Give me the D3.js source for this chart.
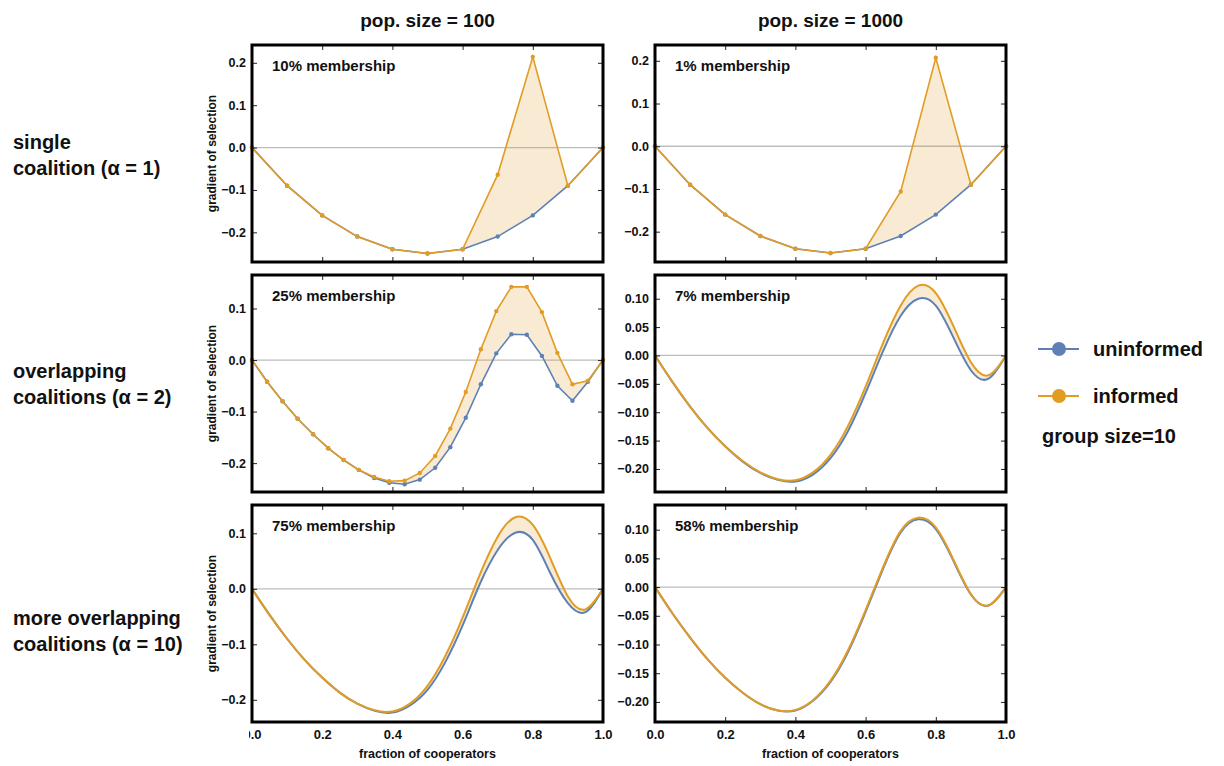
<!DOCTYPE html>
<html>
<head>
<meta charset="utf-8">
<script src="https://cdn.jsdelivr.net/npm/d3@7"></script>
<style>
	body { margin: 0; background: #fff; }
	svg text { font-family: "Liberation Sans", Arial, sans-serif; font-weight: bold; fill: #111; }
</style>
</head>
<body>
<div id="chart"></div>
<script>
// ---- data ----
var colTitles = ["pop. size = 100", "pop. size = 1000"];
var rowLabels = [["single", "coalition (\u03b1 = 1)"],
	["overlapping", "coalitions (\u03b1 = 2)"],
	["more overlapping", "coalitions (\u03b1 = 10)"]];
var memberships = ["10% membership", "1% membership", "25% membership", "7% membership", "75% membership", "58% membership"];
var seriesNames = ["uninformed", "informed"];
var groupNote = "group size=10";
var xTicks = [0, 0.2, 0.4, 0.6, 0.8, 1.0];

// single coalition, 11 states
var xTenths = [0, 0.1, 0.2, 0.3, 0.4, 0.5, 0.6, 0.7, 0.8, 0.9, 1.0];
var singleUninf100 = [0, -0.09, -0.16, -0.21, -0.24, -0.25, -0.24, -0.21, -0.16, -0.09, 0];
var singleInf100 = [0, -0.09, -0.16, -0.21, -0.24, -0.25, -0.24, -0.064, 0.214, -0.09, 0];
var singleUninf1000 = [0, -0.09, -0.16, -0.21, -0.24, -0.25, -0.24, -0.21, -0.16, -0.09, 0];
var singleInf1000 = [0, -0.09, -0.16, -0.21, -0.24, -0.25, -0.24, -0.106, 0.207, -0.09, 0];

// overlapping, pop 100, 24 states
var xTwentyThirds = [0, 0.043, 0.087, 0.130, 0.174, 0.217, 0.261, 0.304, 0.348, 0.391, 0.435, 0.478,
	0.522, 0.565, 0.609, 0.652, 0.696, 0.739, 0.783, 0.826, 0.870, 0.913, 0.957, 1.0];
var overlapUninf100 = [0, -0.042, -0.080, -0.114, -0.144, -0.171, -0.194, -0.213, -0.229, -0.238, -0.241, -0.232,
	-0.209, -0.169, -0.112, -0.047, 0.013, 0.050, 0.049, 0.008, -0.050, -0.079, -0.042, 0];
var overlapInf100 = [0, -0.042, -0.080, -0.114, -0.144, -0.171, -0.194, -0.213, -0.227, -0.235, -0.234, -0.219,
	-0.186, -0.133, -0.062, 0.021, 0.095, 0.142, 0.142, 0.093, 0.014, -0.047, -0.040, 0];

// smooth curves, sampled every 0.05
var xTwentieths = [0, 0.05, 0.1, 0.15, 0.2, 0.25, 0.3, 0.35, 0.4, 0.45, 0.5, 0.55, 0.6, 0.65, 0.7, 0.75, 0.8, 0.85, 0.9, 0.95, 1.0];
var overlapUninf1000 = [0, -0.047, -0.090, -0.128, -0.160, -0.187, -0.207, -0.219, -0.222, -0.210, -0.181, -0.133, -0.066, 0.008, 0.070, 0.100, 0.088, 0.032, -0.026, -0.041, 0];
var overlapInf1000 = [0, -0.047, -0.090, -0.128, -0.160, -0.186, -0.206, -0.218, -0.220, -0.206, -0.175, -0.124, -0.055, 0.022, 0.088, 0.123, 0.110, 0.052, -0.012, -0.035, 0];
var moreUninf100 = [0, -0.047, -0.090, -0.128, -0.160, -0.187, -0.207, -0.220, -0.223, -0.210, -0.182, -0.133, -0.066, 0.010, 0.070, 0.101, 0.088, 0.028, -0.026, -0.042, 0];
var moreInf100 = [0, -0.047, -0.090, -0.128, -0.160, -0.187, -0.207, -0.219, -0.221, -0.207, -0.175, -0.122, -0.052, 0.027, 0.094, 0.129, 0.115, 0.055, -0.014, -0.037, 0];
var moreUninf1000 = [0, -0.046, -0.088, -0.126, -0.158, -0.184, -0.204, -0.215, -0.215, -0.198, -0.165, -0.113, -0.043, 0.032, 0.095, 0.118, 0.101, 0.046, -0.013, -0.032, 0];
var moreInf1000 = [0, -0.046, -0.088, -0.126, -0.158, -0.184, -0.204, -0.215, -0.214, -0.197, -0.163, -0.110, -0.040, 0.035, 0.098, 0.121, 0.104, 0.048, -0.012, -0.032, 0];

var ticksTenths = [-0.2, -0.1, 0, 0.1, 0.2];
var ticksTenthsShort = [-0.2, -0.1, 0, 0.1];
var ticksTwentieths = [-0.2, -0.15, -0.1, -0.05, 0, 0.05, 0.1];

(function() {
	var width = 1224,
		height = 766,
		panelW = 351,
		panelH = 217;

	var colX = [252, 655],
		rowY = [45, 275, 505],
		rowLabelBase = [149, 378, 625];

	var blue = "#5e81b5",
		orange = "#e19c24",
		fillColor = "rgba(225,156,36,0.2)";

	var panels = [
		{ row: 0, col: 0, xs: xTenths, uninf: singleUninf100, inf: singleInf100, dots: true, domain: [-0.270, 0.242], ticks: ticksTenths, fmt: ".1f" },
		{ row: 0, col: 1, xs: xTenths, uninf: singleUninf1000, inf: singleInf1000, dots: true, domain: [-0.271, 0.237], ticks: ticksTenths, fmt: ".1f" },
		{ row: 1, col: 0, xs: xTwentyThirds, uninf: overlapUninf100, inf: overlapInf100, dots: true, domain: [-0.256, 0.165], ticks: ticksTenthsShort, fmt: ".1f" },
		{ row: 1, col: 1, xs: xTwentieths, uninf: overlapUninf1000, inf: overlapInf1000, dots: false, domain: [-0.2406, 0.1418], ticks: ticksTwentieths, fmt: ".2f" },
		{ row: 2, col: 0, xs: xTwentieths, uninf: moreUninf100, inf: moreInf100, dots: false, domain: [-0.240, 0.151], ticks: ticksTenthsShort, fmt: ".1f" },
		{ row: 2, col: 1, xs: xTwentieths, uninf: moreUninf1000, inf: moreInf1000, dots: false, domain: [-0.235, 0.143], ticks: ticksTwentieths, fmt: ".2f" }
	];

	var svg = d3.select("#chart")
		.append("svg")
		.attr("width", width)
		.attr("height", height);

	// clip that hides the left part of the first x label, as in the figure
	svg.append("clipPath")
		.attr("id", "leftcut")
		.append("rect")
		.attr("x", -3)
		.attr("y", 0)
		.attr("width", 400)
		.attr("height", 40);

	var x = d3.scaleLinear().domain([0, 1]).range([0, panelW]);

	// column titles
	svg.selectAll(".coltitle")
		.data(colTitles)
		.enter().append("text")
		.attr("class", "coltitle")
		.attr("x", function(d, i) { return colX[i] + panelW / 2; })
		.attr("y", 27)
		.attr("text-anchor", "middle")
		.style("font-size", "19px")
		.text(function(d) { return d; });

	// row labels
	rowLabels.forEach(function(lines, i) {
		var t = svg.append("text")
			.attr("x", 13)
			.attr("y", rowLabelBase[i])
			.style("font-size", "20px");
		lines.forEach(function(line, j) {
			t.append("tspan")
				.attr("x", 13)
				.attr("dy", j === 0 ? 0 : 26)
				.text(line);
		});
	});

	panels.forEach(function(p, idx) {
		var g = svg.append("g")
			.attr("transform", "translate(" + colX[p.col] + "," + rowY[p.row] + ")");

		var y = d3.scaleLinear().domain(p.domain).range([panelH, 0]);

		var pts = p.xs.map(function(v, i) {
			return { x: v, u: p.uninf[i], f: p.inf[i] };
		});

		// discrete states joined by straight segments, large populations smoothed
		var curve = p.dots ? d3.curveLinear : d3.curveNatural;

		// zero line
		g.append("line")
			.attr("x1", 0).attr("x2", panelW)
			.attr("y1", y(0)).attr("y2", y(0))
			.attr("stroke", "#bdbdbd")
			.attr("stroke-width", 1.3);

		// band between the two series
		g.append("path")
			.datum(pts)
			.attr("fill", fillColor)
			.attr("d", d3.area()
				.curve(curve)
				.x(function(d) { return x(d.x); })
				.y0(function(d) { return y(d.u); })
				.y1(function(d) { return y(d.f); }));

		var lineU = d3.line().curve(curve)
			.x(function(d) { return x(d.x); })
			.y(function(d) { return y(d.u); });
		var lineF = d3.line().curve(curve)
			.x(function(d) { return x(d.x); })
			.y(function(d) { return y(d.f); });

		g.append("path").datum(pts)
			.attr("fill", "none")
			.attr("stroke", blue)
			.attr("stroke-width", p.dots ? 1.6 : 2)
			.attr("d", lineU);

		if (p.dots) {
			g.selectAll(".dotu")
				.data(pts)
				.enter().append("circle")
				.attr("class", "dotu")
				.attr("cx", function(d) { return x(d.x); })
				.attr("cy", function(d) { return y(d.u); })
				.attr("r", 2.2)
				.attr("fill", blue);
		}

		g.append("path").datum(pts)
			.attr("fill", "none")
			.attr("stroke", orange)
			.attr("stroke-width", p.dots ? 1.6 : 2)
			.attr("d", lineF);

		if (p.dots) {
			g.selectAll(".dotf")
				.data(pts)
				.enter().append("circle")
				.attr("class", "dotf")
				.attr("cx", function(d) { return x(d.x); })
				.attr("cy", function(d) { return y(d.f); })
				.attr("r", 2.2)
				.attr("fill", orange);
		}

		// inward ticks on all four sides
		var yl = g.append("g")
			.call(d3.axisLeft(y).tickValues(p.ticks).tickFormat(d3.format(p.fmt))
				.tickSizeInner(-5).tickSizeOuter(0).tickPadding(6));
		yl.selectAll("text").style("font-size", "12.5px");

		g.append("g")
			.attr("transform", "translate(" + panelW + ",0)")
			.call(d3.axisRight(y).tickValues(p.ticks).tickFormat("")
				.tickSizeInner(-5).tickSizeOuter(0));

		g.append("g")
			.call(d3.axisTop(x).tickValues(xTicks.slice(1, 5)).tickFormat("")
				.tickSizeInner(-5).tickSizeOuter(0));

		var xb = g.append("g")
			.attr("transform", "translate(0," + panelH + ")")
			.call(d3.axisBottom(x).tickValues(p.row === 2 ? xTicks : xTicks.slice(1, 5))
				.tickFormat(p.row === 2 ? d3.format(".1f") : "")
				.tickSizeInner(-5).tickSizeOuter(0).tickPadding(8));
		xb.selectAll("text").style("font-size", "13px");
		if (p.row === 2 && p.col === 0) {
			xb.attr("clip-path", "url(#leftcut)");
		}

		g.selectAll(".domain").remove();
		g.selectAll(".tick line").attr("stroke", "#222").attr("stroke-width", 1);
		g.selectAll(".tick text").attr("fill", "#111").attr("font-family", null);

		// frame
		g.append("rect")
			.attr("width", panelW)
			.attr("height", panelH)
			.attr("fill", "none")
			.attr("stroke", "#000")
			.attr("stroke-width", 3);

		// membership label
		g.append("text")
			.attr("x", 20)
			.attr("y", 26)
			.style("font-size", "15px")
			.text(memberships[idx]);

		if (p.col === 0) {
			g.append("text")
				.attr("transform", "translate(-36," + (panelH / 2) + ") rotate(-90)")
				.attr("text-anchor", "middle")
				.style("font-size", "12px")
				.text("gradient of selection");
		}
		if (p.row === 2) {
			g.append("text")
				.attr("x", panelW / 2)
				.attr("y", panelH + 36)
				.attr("text-anchor", "middle")
				.style("font-size", "12.5px")
				.text("fraction of cooperators");
		}
	});

	// legend
	var legend = svg.append("g").attr("transform", "translate(1038,349)");
	var legendColors = [blue, orange];
	seriesNames.forEach(function(name, i) {
		var row = legend.append("g").attr("transform", "translate(0," + (i * 47) + ")");
		row.append("line")
			.attr("x1", 0).attr("x2", 41)
			.attr("stroke", legendColors[i])
			.attr("stroke-width", 2);
		row.append("circle")
			.attr("cx", 21)
			.attr("r", 7)
			.attr("fill", legendColors[i]);
		row.append("text")
			.attr("x", 55)
			.attr("y", 7)
			.style("font-size", "20px")
			.text(name);
	});
	legend.append("text")
		.attr("x", 4)
		.attr("y", 94)
		.style("font-size", "20px")
		.text(groupNote);
})();
</script>
</body>
</html>
